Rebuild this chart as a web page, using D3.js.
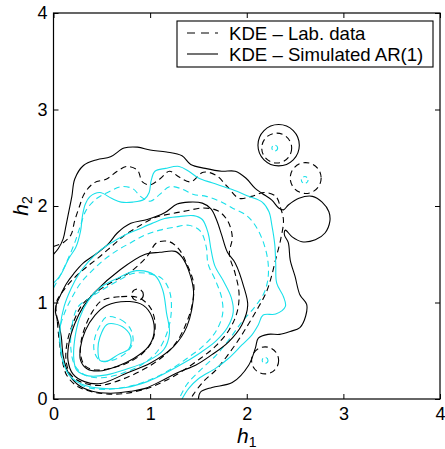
<!DOCTYPE html>
<html><head><meta charset="utf-8">
<script src="https://cdn.jsdelivr.net/npm/d3@7"></script>
<style>body{margin:0;background:#fff}svg{display:block}text{font-family:"Liberation Sans",Arial,sans-serif}</style>
</head><body>
<svg id="c" width="445" height="449"></svg>
<script>
const xTicks=[0,1,2,3,4], yTicks=[0,1,2,3,4];
const legendLabels=["KDE \u2013 Lab. data","KDE \u2013 Simulated AR(1)"];

// Simulated AR(1) KDE contours (outer -> inner), [h1,h2]
const simA=[[0,1.50],[0.05,1.56],[0.10,1.66],[0.13,1.80],[0.16,1.95],[0.19,2.10],[0.22,2.28],[0.31,2.42],[0.45,2.48],[0.59,2.51],[0.73,2.60],[0.87,2.61],[1.0,2.58],[1.17,2.56],[1.33,2.52],[1.42,2.43],[1.57,2.39],[1.74,2.36],[1.88,2.36],[1.99,2.29],[2.09,2.18],[2.16,2.13],[2.26,2.06],[2.33,1.98],[2.38,1.96],[2.43,2.01],[2.54,2.08],[2.68,2.10],[2.78,2.04],[2.85,1.94],[2.86,1.84],[2.81,1.72],[2.71,1.65],[2.57,1.63],[2.47,1.68],[2.40,1.75],[2.39,1.70],[2.43,1.62],[2.45,1.44],[2.50,1.27],[2.55,1.08],[2.62,0.98],[2.61,0.86],[2.55,0.74],[2.45,0.70],[2.34,0.67],[2.22,0.67],[2.12,0.63],[2.09,0.53],[2.02,0.35],[1.85,0.17],[1.64,0.12],[1.52,0.07],[1.50,0]];
const simB=[[0,1.20],[0.07,1.28],[0.16,1.46],[0.23,1.57],[0.28,1.74],[0.30,1.90],[0.33,2.02],[0.38,2.10],[0.48,2.14],[0.60,2.08],[0.70,2.04],[0.82,2.04],[0.94,2.07],[0.99,2.14],[1.01,2.26],[1.05,2.36],[1.16,2.39],[1.30,2.41],[1.40,2.36],[1.50,2.29],[1.64,2.24],[1.85,2.17],[2.02,2.10],[2.16,2.04],[2.23,1.94],[2.26,1.80],[2.29,1.60],[2.30,1.40],[2.31,1.20],[2.38,1.06],[2.40,0.96],[2.30,0.88],[2.17,0.87],[2.12,0.77],[2.05,0.66],[1.95,0.56],[1.81,0.42],[1.68,0.32],[1.50,0.21],[1.40,0.11],[1.33,0]];
const simC=[[0.02,0.90],[0.05,0.80],[0.08,0.65],[0.10,0.45],[0.15,0.28],[0.25,0.15],[0.40,0.08],[0.59,0.06],[0.80,0.08],[0.95,0.11],[1.16,0.21],[1.30,0.28],[1.47,0.35],[1.64,0.46],[1.81,0.59],[1.95,0.77],[2.01,0.97],[1.97,1.16],[1.88,1.41],[1.80,1.52],[1.74,1.70],[1.69,1.85],[1.63,1.97],[1.54,2.03],[1.40,2.04],[1.28,2.02],[1.15,1.93],[0.97,1.86],[0.80,1.82],[0.66,1.72],[0.57,1.61],[0.45,1.51],[0.31,1.41],[0.21,1.30],[0.13,1.19],[0.07,1.07],[0.03,0.98]];
const simD=[[0.07,0.75],[0.07,0.55],[0.10,0.38],[0.17,0.24],[0.30,0.15],[0.50,0.11],[0.75,0.12],[0.97,0.18],[1.18,0.28],[1.36,0.38],[1.52,0.48],[1.68,0.60],[1.80,0.74],[1.86,0.90],[1.84,1.05],[1.76,1.22],[1.67,1.38],[1.63,1.55],[1.60,1.72],[1.54,1.86],[1.45,1.90],[1.30,1.89],[1.15,1.87],[1.02,1.82],[0.88,1.76],[0.74,1.70],[0.60,1.62],[0.47,1.53],[0.36,1.42],[0.26,1.29],[0.18,1.14],[0.11,0.96]];
const simE=[[0.31,0.96],[0.22,0.78],[0.16,0.58],[0.15,0.40],[0.20,0.26],[0.32,0.18],[0.49,0.16],[0.76,0.27],[1.0,0.37],[1.24,0.54],[1.38,0.75],[1.45,1.10],[1.41,1.30],[1.33,1.47],[1.26,1.53],[1.10,1.52],[0.95,1.50],[0.69,1.34],[0.42,1.10]];
const simF=[[0.66,1.25],[0.86,1.33],[1.05,1.28],[1.13,1.13],[1.17,0.89],[1.20,0.68],[1.14,0.51],[0.97,0.39],[0.76,0.31],[0.55,0.25],[0.36,0.24],[0.24,0.30],[0.21,0.42],[0.22,0.62],[0.27,0.84],[0.36,1.02],[0.49,1.16]];
const simG=[[0.55,0.97],[0.79,1.01],[0.93,0.97],[1.02,0.85],[1.04,0.68],[0.98,0.54],[0.83,0.42],[0.66,0.34],[0.47,0.29],[0.35,0.31],[0.28,0.40],[0.28,0.54],[0.33,0.71],[0.43,0.87]];
const simH=[[0.62,0.78],[0.74,0.73],[0.80,0.64],[0.78,0.52],[0.67,0.46],[0.55,0.39],[0.48,0.40],[0.46,0.52],[0.48,0.64],[0.55,0.77]];
const simIslands=[[2.33,2.63,0.214]];

// Lab data KDE contours (outer -> inner)
const labA=[[0,1.58],[0.10,1.62],[0.18,1.70],[0.22,1.85],[0.27,2.00],[0.32,2.13],[0.42,2.24],[0.55,2.28],[0.66,2.36],[0.76,2.41],[0.87,2.37],[0.92,2.25],[1.0,2.22],[1.10,2.28],[1.20,2.36],[1.30,2.30],[1.42,2.25],[1.55,2.35],[1.68,2.32],[1.80,2.20],[1.92,2.08],[2.05,2.10],[2.18,2.14],[2.30,2.10],[2.35,1.98],[2.38,1.85],[2.35,1.65],[2.30,1.45],[2.25,1.25],[2.20,1.10],[2.12,0.95],[2.02,0.78],[1.92,0.62],[1.80,0.45],[1.68,0.30],[1.55,0.18],[1.45,0.05],[1.42,0]];
const labB=[[0,1.15],[0.08,1.30],[0.15,1.45],[0.22,1.62],[0.28,1.80],[0.34,1.96],[0.45,2.08],[0.58,2.15],[0.70,2.20],[0.82,2.18],[0.90,2.10],[1.0,2.05],[1.10,2.12],[1.20,2.20],[1.32,2.18],[1.45,2.12],[1.58,2.10],[1.72,2.05],[1.85,1.98],[2.0,1.90],[2.10,1.78],[2.18,1.60],[2.22,1.42],[2.22,1.25],[2.18,1.10],[2.08,0.95],[1.95,0.80],[1.82,0.62],[1.68,0.45],[1.52,0.30],[1.38,0.15],[1.30,0]];
const labC=[[0.03,1.0],[0.04,0.8],[0.06,0.6],[0.09,0.40],[0.14,0.24],[0.25,0.13],[0.42,0.07],[0.62,0.05],[0.82,0.07],[1.0,0.12],[1.18,0.20],[1.35,0.30],[1.52,0.42],[1.68,0.55],[1.82,0.72],[1.90,0.90],[1.92,1.10],[1.88,1.30],[1.82,1.50],[1.85,1.68],[1.80,1.85],[1.70,1.95],[1.55,1.98],[1.38,1.95],[1.22,1.92],[1.05,1.88],[0.90,1.80],[0.74,1.70],[0.60,1.58],[0.46,1.46],[0.32,1.35],[0.20,1.24],[0.10,1.12]];
const labD=[[0.06,0.7],[0.08,0.5],[0.12,0.33],[0.20,0.20],[0.35,0.12],[0.55,0.10],[0.78,0.13],[1.0,0.20],[1.20,0.30],[1.38,0.42],[1.55,0.55],[1.68,0.70],[1.75,0.88],[1.74,1.05],[1.68,1.22],[1.60,1.40],[1.58,1.58],[1.52,1.74],[1.40,1.80],[1.25,1.78],[1.10,1.75],[0.95,1.70],[0.80,1.62],[0.66,1.54],[0.52,1.44],[0.40,1.33],[0.28,1.20],[0.19,1.05],[0.11,0.88]];
const labE=[[0.30,0.98],[0.20,0.78],[0.14,0.58],[0.13,0.40],[0.18,0.25],[0.30,0.17],[0.48,0.14],[0.70,0.20],[0.92,0.30],[1.12,0.43],[1.28,0.60],[1.38,0.80],[1.44,1.00],[1.45,1.20],[1.38,1.40],[1.30,1.55],[1.20,1.63],[1.07,1.62],[0.97,1.48],[0.80,1.32],[0.62,1.22],[0.46,1.12]];
const labF=[[0.25,0.95],[0.19,0.75],[0.18,0.52],[0.22,0.35],[0.32,0.25],[0.50,0.22],[0.72,0.27],[0.92,0.36],[1.08,0.50],[1.18,0.70],[1.22,0.92],[1.20,1.12],[1.12,1.25],[0.98,1.30],[0.82,1.30],[0.66,1.22],[0.52,1.14],[0.38,1.05]];
const labG=[[0.50,1.02],[0.70,1.06],[0.88,1.05],[1.00,0.95],[1.05,0.80],[1.03,0.62],[0.93,0.48],[0.78,0.38],[0.60,0.32],[0.44,0.30],[0.33,0.34],[0.28,0.46],[0.29,0.62],[0.34,0.78],[0.40,0.90]];
const labH=[[0.55,0.85],[0.70,0.82],[0.80,0.72],[0.82,0.58],[0.74,0.47],[0.60,0.40],[0.48,0.40],[0.42,0.50],[0.43,0.64],[0.48,0.76]];
const labIslands=[[2.31,2.60,0.155],[2.61,2.29,0.16],[2.19,0.40,0.14],[0.87,1.08,0.06]];
const labIslandsInner=[[2.29,2.60,0.03],[2.60,2.27,0.035],[2.19,0.40,0.03]];

const W=445,H=449;
const x=d3.scaleLinear().domain([0,4]).range([53.5,440]);
const y=d3.scaleLinear().domain([0,4]).range([399,13]);
const BLACK="#000", CYAN="#18e0ea";
const svg=d3.select("#c");
svg.append("defs").append("clipPath").attr("id","pa").append("rect")
  .attr("x",x(0)).attr("y",y(4)).attr("width",x(4)-x(0)).attr("height",y(0)-y(4));
const g=svg.append("g").attr("clip-path","url(#pa)");

const openLine=d3.line().x(d=>x(d[0])).y(d=>y(d[1])).curve(d3.curveCatmullRom.alpha(0.5));
const closedLine=d3.line().x(d=>x(d[0])).y(d=>y(d[1])).curve(d3.curveCatmullRomClosed.alpha(0.5));

const simLevels=[simA,simB,simC,simD,simE,simF,simG,simH];
const labLevels=[labA,labB,labC,labD,labE,labF,labG,labH];
function drawSet(levels,dash){
  levels.forEach((pts,i)=>{
    const open=(i<2);
    g.append("path").attr("d",(open?openLine:closedLine)(pts))
     .attr("fill","none").attr("stroke",i%2===0?BLACK:CYAN).attr("stroke-width",1.1)
     .attr("stroke-dasharray",dash);
  });
}
drawSet(labLevels,"6,4");
drawSet(simLevels,null);
function drawIslands(arr,color,dash){
  g.selectAll(null).data(arr).enter().append("ellipse")
   .attr("cx",d=>x(d[0])).attr("cy",d=>y(d[1]))
   .attr("rx",d=>x(d[2])-x(0)).attr("ry",d=>y(0)-y(d[2]))
   .attr("fill","none").attr("stroke",color).attr("stroke-width",1.1).attr("stroke-dasharray",dash);
}
drawIslands(simIslands,BLACK,null);
drawIslands(labIslands,BLACK,"6,4");
drawIslands(labIslandsInner,CYAN,"4,3");

// frame
svg.append("rect").attr("x",x(0)).attr("y",y(4)).attr("width",x(4)-x(0)).attr("height",y(0)-y(4))
  .attr("fill","none").attr("stroke","#000").attr("stroke-width",1.2);

const fs=18;
const ax=svg.append("g").attr("transform",`translate(0,${y(0)})`)
  .call(d3.axisBottom(x).tickValues(xTicks).tickSize(-5).tickPadding(8).tickFormat(d3.format("d")));
const axT=svg.append("g").attr("transform",`translate(0,${y(4)})`)
  .call(d3.axisTop(x).tickValues(xTicks).tickSize(-5).tickFormat(""));
const ay=svg.append("g").attr("transform",`translate(${x(0)},0)`)
  .call(d3.axisLeft(y).tickValues(yTicks).tickSize(-5).tickPadding(6).tickFormat(d3.format("d")));
const ayR=svg.append("g").attr("transform",`translate(${x(4)},0)`)
  .call(d3.axisRight(y).tickValues(yTicks).tickSize(-5).tickFormat(""));
[ax,axT,ay,ayR].forEach(a=>{a.select(".domain").remove();a.selectAll("line").attr("stroke","#000");
  a.selectAll("text").attr("font-size",fs).attr("fill","#000").attr("font-family","Liberation Sans, Arial, sans-serif");});

// axis labels
const xl=svg.append("text").attr("x",(x(0)+x(4))/2).attr("y",443).attr("text-anchor","middle")
  .attr("font-family","Liberation Serif, Times New Roman, serif").attr("font-size",21).attr("fill","#000");
xl.append("tspan").attr("font-style","italic").text("h");
xl.append("tspan").attr("font-size",14).attr("dy",4).text("1");
const yl=svg.append("text").attr("transform",`translate(28,${(y(0)+y(4))/2}) rotate(-90)`).attr("text-anchor","middle")
  .attr("font-family","Liberation Serif, Times New Roman, serif").attr("font-size",21).attr("fill","#000");
yl.append("tspan").attr("font-style","italic").text("h");
yl.append("tspan").attr("font-size",14).attr("dy",4).text("2");

// legend
const lg=svg.append("g");
lg.append("rect").attr("x",177).attr("y",21).attr("width",256).attr("height",46)
  .attr("fill","#fff").attr("stroke","#000").attr("stroke-width",1.1);
legendLabels.forEach((t,i)=>{
  const yy=33+i*21;
  lg.append("line").attr("x1",187).attr("x2",218).attr("y1",yy).attr("y2",yy)
    .attr("stroke","#000").attr("stroke-width",1.1).attr("stroke-dasharray",i===0?"8,6":null);
  lg.append("text").attr("x",229).attr("y",yy+6.5).attr("font-size",18.6).attr("fill","#000").text(t);
});
</script>
</body></html>
